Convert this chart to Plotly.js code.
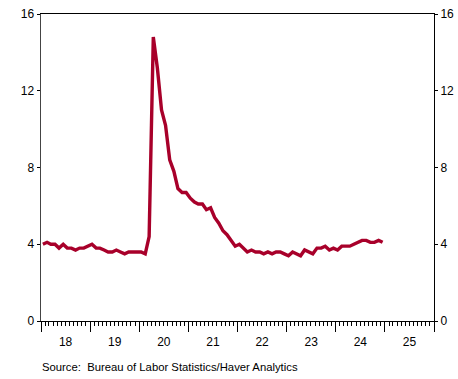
<!DOCTYPE html>
<html>
<head>
<meta charset="utf-8">
<script src="https://cdn.plot.ly/plotly-3.0.1.min.js"></script>
<style>
html, body { margin: 0; padding: 0; background: #fff; }
#chart { width: 458px; height: 379px; }
</style>
</head>
<body>
<div id="chart"></div>
<script>
// Monthly unemployment rate, Jan 2018 .. Dec 2024 (percent)
const years = [2018, 2019, 2020, 2021, 2022, 2023, 2024];
const rate2018 = [4.0, 4.1, 4.0, 4.0, 3.8, 4.0, 3.8, 3.8, 3.7, 3.8, 3.8, 3.9];
const rate2019 = [4.0, 3.8, 3.8, 3.7, 3.6, 3.6, 3.7, 3.6, 3.5, 3.6, 3.6, 3.6];
const rate2020 = [3.6, 3.5, 4.4, 14.8, 13.2, 11.0, 10.2, 8.4, 7.8, 6.9, 6.7, 6.7];
const rate2021 = [6.4, 6.2, 6.1, 6.1, 5.8, 5.9, 5.4, 5.1, 4.7, 4.5, 4.2, 3.9];
const rate2022 = [4.0, 3.8, 3.6, 3.7, 3.6, 3.6, 3.5, 3.6, 3.5, 3.6, 3.6, 3.5];
const rate2023 = [3.4, 3.6, 3.5, 3.4, 3.7, 3.6, 3.5, 3.8, 3.8, 3.9, 3.7, 3.8];
const rate2024 = [3.7, 3.9, 3.9, 3.9, 4.0, 4.1, 4.2, 4.2, 4.1, 4.1, 4.2, 4.1];
const yTicks = [0, 4, 8, 12, 16];
const sourceText = "Source:  Bureau of Labor Statistics/Haver Analytics";

const allRates = [rate2018, rate2019, rate2020, rate2021, rate2022, rate2023, rate2024];
const dates = [];
const values = [];
years.forEach((yr, i) => {
  allRates[i].forEach((v, m) => {
    dates.push(yr + "-" + String(m + 1).padStart(2, "0") + "-15");
    values.push(v);
  });
});

const lineColor = "rgb(168,0,42)";
const font = { family: "Liberation Sans, Arial, sans-serif", size: 12, color: "#000" };

const traces = [
  { x: dates, y: values, type: "scatter", mode: "lines",
    line: { color: lineColor, width: 3.4 }, hoverinfo: "skip", showlegend: false },
  { x: dates, y: values, type: "scatter", mode: "lines", yaxis: "y2",
    line: { color: "rgba(0,0,0,0)", width: 0 }, hoverinfo: "skip", showlegend: false }
];

const layout = {
  width: 458, height: 379,
  margin: { l: 41, r: 24, t: 14, b: 58 },
  paper_bgcolor: "#fff", plot_bgcolor: "#fff",
  font: font,
  showlegend: false,
  xaxis: {
    type: "date",
    range: ["2018-01-01", "2026-01-01"],
    tick0: "2018-01-01", dtick: "M12",
    tickformat: "%y", ticklabelmode: "period",
    ticks: "outside", ticklen: 10, tickwidth: 1, tickcolor: "#000",
    minor: { dtick: "M1", ticks: "outside", ticklen: 4, tickwidth: 1, tickcolor: "#000", showgrid: false },
    showline: true, linecolor: "#000", linewidth: 1, mirror: true,
    showgrid: false, zeroline: false, fixedrange: true,
    tickfont: font
  },
  yaxis: {
    range: [0, 16], tickvals: yTicks,
    ticks: "outside", ticklen: 3, tickcolor: "#000",
    showline: true, linecolor: "#444", linewidth: 1.5,
    showgrid: false, zeroline: false, fixedrange: true,
    tickfont: font
  },
  yaxis2: {
    overlaying: "y", side: "right",
    range: [0, 16], tickvals: yTicks,
    ticks: "outside", ticklen: 3, tickcolor: "#000",
    showline: true, linecolor: "#000", linewidth: 1,
    showgrid: false, zeroline: false, fixedrange: true,
    tickfont: font
  },
  annotations: [{
    text: sourceText, xref: "paper", yref: "paper",
    x: -0.002, y: -0.125, xanchor: "left", yanchor: "top",
    showarrow: false, font: { family: "Liberation Sans, Arial, sans-serif", size: 11.3, color: "#000" }
  }]
};

Plotly.newPlot("chart", traces, layout, { displayModeBar: false, staticPlot: true });
</script>
</body>
</html>
